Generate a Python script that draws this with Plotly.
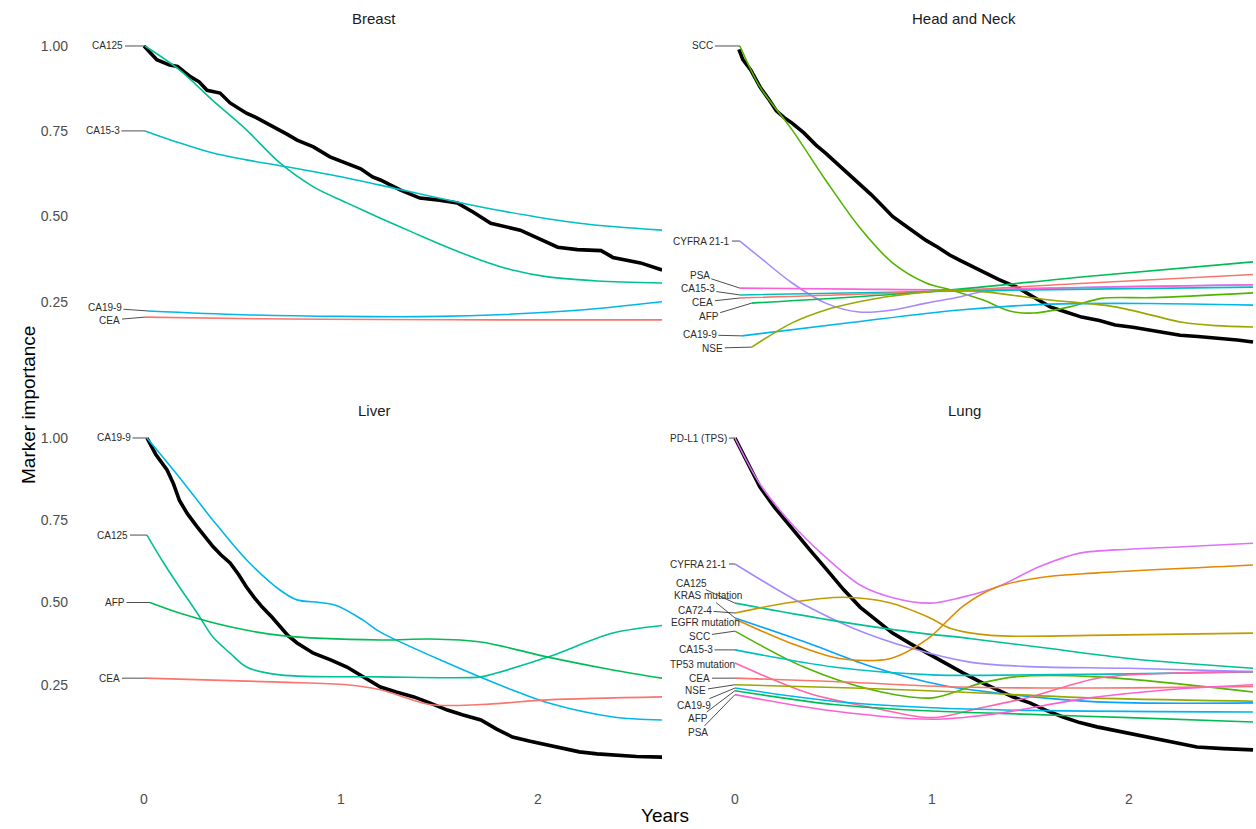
import plotly.graph_objects as go

# ---------------------------------------------------------------- data
X_TICKS = ["0", "1", "2"]
Y_TICKS = ["0.25", "0.50", "0.75", "1.00"]
Y_TICKVALS = [0.25, 0.50, 0.75, 1.00]
X_TICKVALS = [0, 1, 2]

COLORS = {
    "CEA": "#F8766D", "EGFR mutation": "#E38900", "CA72-4": "#C49A00",
    "NSE": "#99A800", "SCC": "#53B400", "AFP": "#00BC56", "CA125": "#00C094",
    "CA15-3": "#00BFC4", "CA19-9": "#00B6EB", "KRAS mutation": "#06A4FF",
    "CYFRA 21-1": "#A58AFF", "PD-L1 (TPS)": "#DF70F8", "PSA": "#FB61D7",
    "TP53 mutation": "#FF66A8",
}

# survival-like (black) curves
BREAST_KM_X = [0.0, 0.03, 0.065, 0.13, 0.17, 0.235, 0.28, 0.32, 0.386, 0.437, 0.48, 0.52, 0.57,
               0.624, 0.69, 0.73, 0.777, 0.86, 0.944, 1.03, 1.1, 1.16, 1.2, 1.3, 1.4, 1.5, 1.59,
               1.67, 1.76, 1.91, 2.0, 2.1, 2.2, 2.32, 2.38, 2.45, 2.52, 2.63]
BREAST_KM_Y = [1.0, 0.98, 0.96, 0.944, 0.94, 0.91, 0.895, 0.87, 0.862, 0.833, 0.818, 0.803, 0.79,
               0.774, 0.754, 0.74, 0.724, 0.704, 0.675, 0.657, 0.64, 0.616, 0.607, 0.578, 0.554,
               0.548, 0.54, 0.513, 0.48, 0.46, 0.437, 0.41, 0.403, 0.40, 0.38, 0.372, 0.364, 0.343]

HN_KM_X = [0.02, 0.04, 0.08, 0.127, 0.17, 0.21, 0.25, 0.29, 0.35, 0.41, 0.46, 0.52, 0.58, 0.63,
           0.69, 0.75, 0.80, 0.86, 0.92, 0.97, 1.03, 1.09, 1.14, 1.2, 1.26, 1.34, 1.43, 1.5, 1.6,
           1.68, 1.76, 1.85, 1.93, 2.02, 2.1, 2.18, 2.26, 2.35, 2.44, 2.55, 2.63]
HN_KM_Y = [0.99, 0.96, 0.93, 0.88, 0.845, 0.81, 0.79, 0.774, 0.745, 0.71, 0.686, 0.655, 0.625,
           0.598, 0.565, 0.53, 0.50, 0.475, 0.45, 0.43, 0.41, 0.387, 0.372, 0.355, 0.337, 0.315,
           0.293, 0.27, 0.235, 0.22, 0.205, 0.195, 0.182, 0.175, 0.167, 0.16, 0.152, 0.148,
           0.144, 0.138, 0.132]

LIVER_KM_X = [0.015, 0.06, 0.117, 0.15, 0.18, 0.22, 0.27, 0.31, 0.35, 0.39, 0.437, 0.48, 0.52,
              0.56, 0.60, 0.65, 0.69, 0.73, 0.777, 0.82, 0.86, 0.95, 1.03, 1.11, 1.2, 1.28, 1.37,
              1.45, 1.54, 1.62, 1.71, 1.79, 1.87, 1.96, 2.05, 2.13, 2.21, 2.3, 2.38, 2.5, 2.63]
LIVER_KM_Y = [1.0, 0.95, 0.903, 0.86, 0.81, 0.77, 0.73, 0.70, 0.67, 0.645, 0.62, 0.585, 0.547,
              0.515, 0.486, 0.455, 0.426, 0.40, 0.377, 0.36, 0.346, 0.325, 0.304, 0.275, 0.243,
              0.228, 0.213, 0.195, 0.173, 0.158, 0.143, 0.115, 0.091, 0.078, 0.067, 0.055,
              0.046, 0.04, 0.036, 0.032, 0.03]

LUNG_KM_X = [0.0, 0.05, 0.127, 0.2, 0.294, 0.38, 0.467, 0.55, 0.635, 0.72, 0.80, 0.89, 0.975,
             1.07, 1.157, 1.24, 1.33, 1.41, 1.497, 1.58, 1.665, 1.75, 1.838, 1.92, 2.005, 2.09,
             2.173, 2.26, 2.345, 2.48, 2.63]
LUNG_KM_Y = [1.0, 0.94, 0.851, 0.79, 0.72, 0.66, 0.599, 0.54, 0.486, 0.445, 0.407, 0.375, 0.346,
             0.315, 0.286, 0.26, 0.234, 0.213, 0.195, 0.172, 0.152, 0.135, 0.122, 0.112, 0.103,
             0.092, 0.082, 0.07, 0.061, 0.056, 0.052]

# marker importance curves: name -> (years, importance)
BREAST_MARKERS = {
    "CA125": ([0.005, 0.18, 0.35, 0.52, 0.69, 0.86, 1.03, 1.2, 1.37, 1.54, 1.71, 1.87, 2.05, 2.3, 2.63],
              [1.0, 0.93, 0.84, 0.754, 0.657, 0.587, 0.54, 0.495, 0.452, 0.41, 0.372, 0.343, 0.323, 0.311, 0.305]),
    "CA15-3": ([0.005, 0.18, 0.35, 0.52, 0.73, 1.03, 1.2, 1.71, 2.21, 2.63],
               [0.751, 0.716, 0.686, 0.666, 0.645, 0.613, 0.592, 0.528, 0.48, 0.46]),
    "CA19-9": ([0.02, 0.5, 1.0, 1.5, 1.8, 2.2, 2.63],
               [0.223, 0.212, 0.207, 0.207, 0.212, 0.225, 0.25]),
    "CEA": ([0.005, 0.6, 1.2, 1.8, 2.63],
            [0.205, 0.2, 0.198, 0.197, 0.197]),
}

HN_MARKERS = {
    "SCC": ([0.025, 0.127, 0.29, 0.46, 0.63, 0.80, 0.97, 1.1, 1.26, 1.4, 1.52, 1.7, 1.86, 2.12, 2.63],
            [1.0, 0.88, 0.754, 0.607, 0.47, 0.364, 0.305, 0.284, 0.255, 0.222, 0.217, 0.235, 0.26, 0.262, 0.276]),
    "CYFRA 21-1": ([0.025, 0.127, 0.29, 0.46, 0.63, 0.80, 0.97, 1.14, 1.26, 1.6, 2.63],
                   [0.428, 0.38, 0.305, 0.246, 0.22, 0.226, 0.246, 0.264, 0.28, 0.29, 0.30]),
    "PSA": ([0.025, 0.6, 1.14, 1.8, 2.63],
            [0.29, 0.287, 0.285, 0.292, 0.30]),
    "CA15-3": ([0.025, 1.0, 1.8, 2.63],
               [0.27, 0.28, 0.287, 0.293]),
    "CEA": ([0.025, 1.0, 1.8, 2.63],
            [0.261, 0.28, 0.305, 0.33]),
    "AFP": ([0.085, 1.0, 1.8, 2.63],
            [0.246, 0.28, 0.325, 0.367]),
    "CA19-9": ([0.035, 0.6, 1.14, 1.6, 2.1, 2.63],
               [0.15, 0.19, 0.226, 0.243, 0.245, 0.24]),
    "NSE": ([0.085, 0.29, 0.46, 0.63, 0.80, 1.14, 1.6, 1.93, 2.27, 2.44, 2.63],
            [0.117, 0.188, 0.226, 0.25, 0.267, 0.284, 0.255, 0.235, 0.19, 0.18, 0.176]),
}

LIVER_MARKERS = {
    "CA19-9": ([0.015, 0.18, 0.35, 0.52, 0.69, 0.777, 0.89, 0.98, 1.11, 1.2, 1.54, 1.87, 2.05, 2.38, 2.63],
               [1.0, 0.88, 0.75, 0.63, 0.538, 0.508, 0.50, 0.49, 0.447, 0.41, 0.316, 0.234, 0.195, 0.152, 0.143]),
    "CA125": ([0.015, 0.1, 0.18, 0.27, 0.35, 0.437, 0.52, 0.69, 1.2, 1.71, 1.79, 2.05, 2.38, 2.63],
              [0.705, 0.62, 0.547, 0.468, 0.395, 0.346, 0.304, 0.28, 0.274, 0.274, 0.286, 0.334, 0.407, 0.43]),
    "AFP": ([0.03, 0.18, 0.437, 0.69, 1.2, 1.45, 1.71, 2.05, 2.38, 2.63],
            [0.50, 0.468, 0.426, 0.40, 0.386, 0.389, 0.38, 0.334, 0.295, 0.27]),
    "CEA": ([0.005, 0.69, 1.03, 1.2, 1.45, 1.71, 2.05, 2.63],
            [0.27, 0.258, 0.25, 0.235, 0.19, 0.19, 0.204, 0.213]),
}

LUNG_MARKERS = {
    "PD-L1 (TPS)": ([0.0, 0.127, 0.29, 0.447, 0.635, 0.787, 0.99, 1.14, 1.33, 1.55, 1.75, 2.0, 2.3, 2.63],
                    [1.0, 0.86, 0.738, 0.645, 0.553, 0.517, 0.498, 0.514, 0.547, 0.61, 0.65, 0.662, 0.67, 0.68]),
    "CYFRA 21-1": ([0.0, 0.3, 0.6, 0.9, 1.2, 1.5, 2.0, 2.63],
                   [0.617, 0.51, 0.422, 0.36, 0.318, 0.305, 0.30, 0.29]),
    "CA125": ([0.0, 0.5, 0.9, 1.2, 1.6, 2.0, 2.63],
              [0.498, 0.445, 0.41, 0.39, 0.36, 0.33, 0.30]),
    "KRAS mutation": ([0.0, 0.37, 0.7, 1.04, 1.33, 1.84, 2.63],
                      [0.453, 0.377, 0.304, 0.25, 0.225, 0.198, 0.195]),
    "CA72-4": ([0.0, 0.28, 0.55, 0.78, 0.98, 1.1, 1.3, 1.8, 2.63],
               [0.468, 0.50, 0.516, 0.50, 0.456, 0.42, 0.40, 0.40, 0.407]),
    "EGFR mutation": ([0.0, 0.28, 0.53, 0.79, 0.98, 1.16, 1.33, 1.58, 1.84, 2.63],
                      [0.45, 0.377, 0.33, 0.33, 0.39, 0.49, 0.547, 0.578, 0.59, 0.614]),
    "SCC": ([0.0, 0.35, 0.7, 1.0, 1.25, 1.42, 1.84, 2.63],
            [0.413, 0.304, 0.234, 0.21, 0.255, 0.274, 0.274, 0.228]),
    "CA15-3": ([0.0, 0.5, 1.0, 1.5, 2.0, 2.63],
               [0.356, 0.304, 0.28, 0.28, 0.283, 0.289]),
    "TP53 mutation": ([0.0, 0.37, 0.7, 1.0, 1.25, 1.5, 1.84, 2.2, 2.63],
                      [0.316, 0.225, 0.18, 0.15, 0.18, 0.213, 0.27, 0.285, 0.29]),
    "CEA": ([0.0, 0.5, 1.14, 1.84, 2.63],
            [0.27, 0.26, 0.243, 0.24, 0.245]),
    "NSE": ([0.0, 0.6, 1.14, 1.8, 2.63],
            [0.25, 0.24, 0.228, 0.21, 0.20]),
    "CA19-9": ([0.0, 0.5, 1.0, 1.5, 2.63],
               [0.24, 0.20, 0.18, 0.172, 0.167]),
    "AFP": ([0.0, 0.5, 1.0, 1.5, 2.0, 2.63],
            [0.232, 0.19, 0.17, 0.16, 0.15, 0.137]),
    "PSA": ([0.0, 0.5, 1.0, 1.3, 1.8, 2.2, 2.63],
            [0.22, 0.17, 0.145, 0.16, 0.21, 0.235, 0.25]),
}

# ---------------------------------------------------------------- layout helpers
# label offsets (pixels) from each curve's first point (repelled text labels)
BREAST_LABEL_OFFSETS = {"CA125": (-37, 0), "CA15-3": (-42, 0), "CA19-9": (-43, -3), "CEA": (-35, 3)}
HN_LABEL_OFFSETS = {"SCC": (-37, 0), "CYFRA 21-1": (-38, 0), "PSA": (-40, -13), "CA15-3": (-42, -6),
                    "CEA": (-37, 4), "AFP": (-43, 13), "CA19-9": (-42, -1), "NSE": (-39, 1)}
LIVER_LABEL_OFFSETS = {"CA19-9": (-33, 0), "CA125": (-34, 0), "AFP": (-35, 0), "CEA": (-35, 0)}
LUNG_LABEL_OFFSETS = {"PD-L1 (TPS)": (-36, 1), "CYFRA 21-1": (-36, 0), "CA125": (-43, -20),
                      "KRAS mutation": (-27, -22), "CA72-4": (-40, -3), "EGFR mutation": (-29, 4),
                      "SCC": (-35, 5), "CA15-3": (-39, 0), "TP53 mutation": (-32, 1), "CEA": (-35, 0),
                      "NSE": (-39, 6), "CA19-9": (-41, 17), "AFP": (-37, 28), "PSA": (-37, 38)}

W, H = 1256, 829
FONT = "Liberation Sans, Arial, sans-serif"

# (title, km_x, km_y, markers, label offsets, pixel box (x0,x1,y0,y1), title x px,
#  xrange, yrange, show y ticks, show x ticks)
PANELS = [
    ("Breast", BREAST_KM_X, BREAST_KM_Y, BREAST_MARKERS, BREAST_LABEL_OFFSETS,
     (72, 662, 30, 363), 374, (-0.3655, 2.6294), (0.0704, 1.0469), True, False),
    ("Head and Neck", HN_KM_X, HN_KM_Y, HN_MARKERS, HN_LABEL_OFFSETS,
     (668, 1255, 30, 363), 964, (-0.340, 2.640), (0.0704, 1.0469), False, False),
    ("Liver", LIVER_KM_X, LIVER_KM_Y, LIVER_MARKERS, LIVER_LABEL_OFFSETS,
     (72, 662, 422, 775), 374, (-0.3655, 2.6294), (-0.0243, 1.0486), True, True),
    ("Lung", LUNG_KM_X, LUNG_KM_Y, LUNG_MARKERS, LUNG_LABEL_OFFSETS,
     (668, 1255, 422, 775), 964, (-0.340, 2.640), (-0.0243, 1.0486), False, True),
]

fig = go.Figure()
annotations = []
layout = {}

for i, (title, kx, ky, markers, offsets, box, tx, xr, yr, show_y, show_x) in enumerate(PANELS, start=1):
    xs = "" if i == 1 else str(i)
    xref, yref = "x" + xs, "y" + xs
    x0, x1, y0, y1 = box

    fig.add_trace(go.Scatter(x=kx, y=ky, mode="lines", xaxis=xref, yaxis=yref,
                             line=dict(color="black", width=3.6, shape="linear"),
                             showlegend=False, hoverinfo="skip"))
    for name, (mx, my) in markers.items():
        fig.add_trace(go.Scatter(x=mx, y=my, mode="lines", xaxis=xref, yaxis=yref, name=name,
                                 line=dict(color=COLORS[name], width=1.6, shape="spline", smoothing=0.9),
                                 showlegend=False))
        ax, ay = offsets[name]
        annotations.append(dict(x=mx[0], y=my[0], xref=xref, yref=yref, text=name,
                                showarrow=True, arrowhead=0, arrowwidth=0.9, arrowcolor="#3a3a3a",
                                ax=ax, ay=ay, standoff=0, startstandoff=1, borderpad=0,
                                font=dict(family=FONT, size=10, color="#2b2b2b")))

    layout["xaxis" + xs] = dict(domain=[x0 / W, x1 / W], range=list(xr), anchor=yref,
                                showgrid=False, zeroline=False, showline=False, ticks="",
                                tickvals=X_TICKVALS, ticktext=X_TICKS, showticklabels=show_x,
                                ticklabelstandoff=14, automargin=False,
                                tickfont=dict(family=FONT, size=14, color="#4d4d4d"))
    layout["yaxis" + xs] = dict(domain=[1 - y1 / H, 1 - y0 / H], range=list(yr), anchor=xref,
                                showgrid=False, zeroline=False, showline=False, ticks="",
                                tickvals=Y_TICKVALS, ticktext=Y_TICKS, showticklabels=show_y,
                                ticklabelstandoff=3, automargin=False,
                                tickfont=dict(family=FONT, size=14, color="#4d4d4d"))
    annotations.append(dict(x=tx / W, y=1 - (y0 - 12) / H, xref="paper", yref="paper",
                            text=title, showarrow=False, xanchor="center", yanchor="middle",
                            font=dict(family=FONT, size=15, color="#1a1a1a")))

annotations.append(dict(x=28 / W, y=1 - 405 / H, xref="paper", yref="paper", text="Marker importance",
                        showarrow=False, textangle=-90, xanchor="center", yanchor="middle",
                        font=dict(family=FONT, size=19, color="black")))
annotations.append(dict(x=665 / W, y=1 - 815 / H, xref="paper", yref="paper", text="Years",
                        showarrow=False, xanchor="center", yanchor="middle",
                        font=dict(family=FONT, size=19, color="black")))

fig.update_layout(template="none", width=W, height=H, margin=dict(l=0, r=0, t=0, b=0, pad=0),
                  paper_bgcolor="white", plot_bgcolor="white", showlegend=False,
                  annotations=annotations, **layout)

fig.write_html("out.html", config={"displayModeBar": False},
               post_script="document.body.style.margin='0px';")
